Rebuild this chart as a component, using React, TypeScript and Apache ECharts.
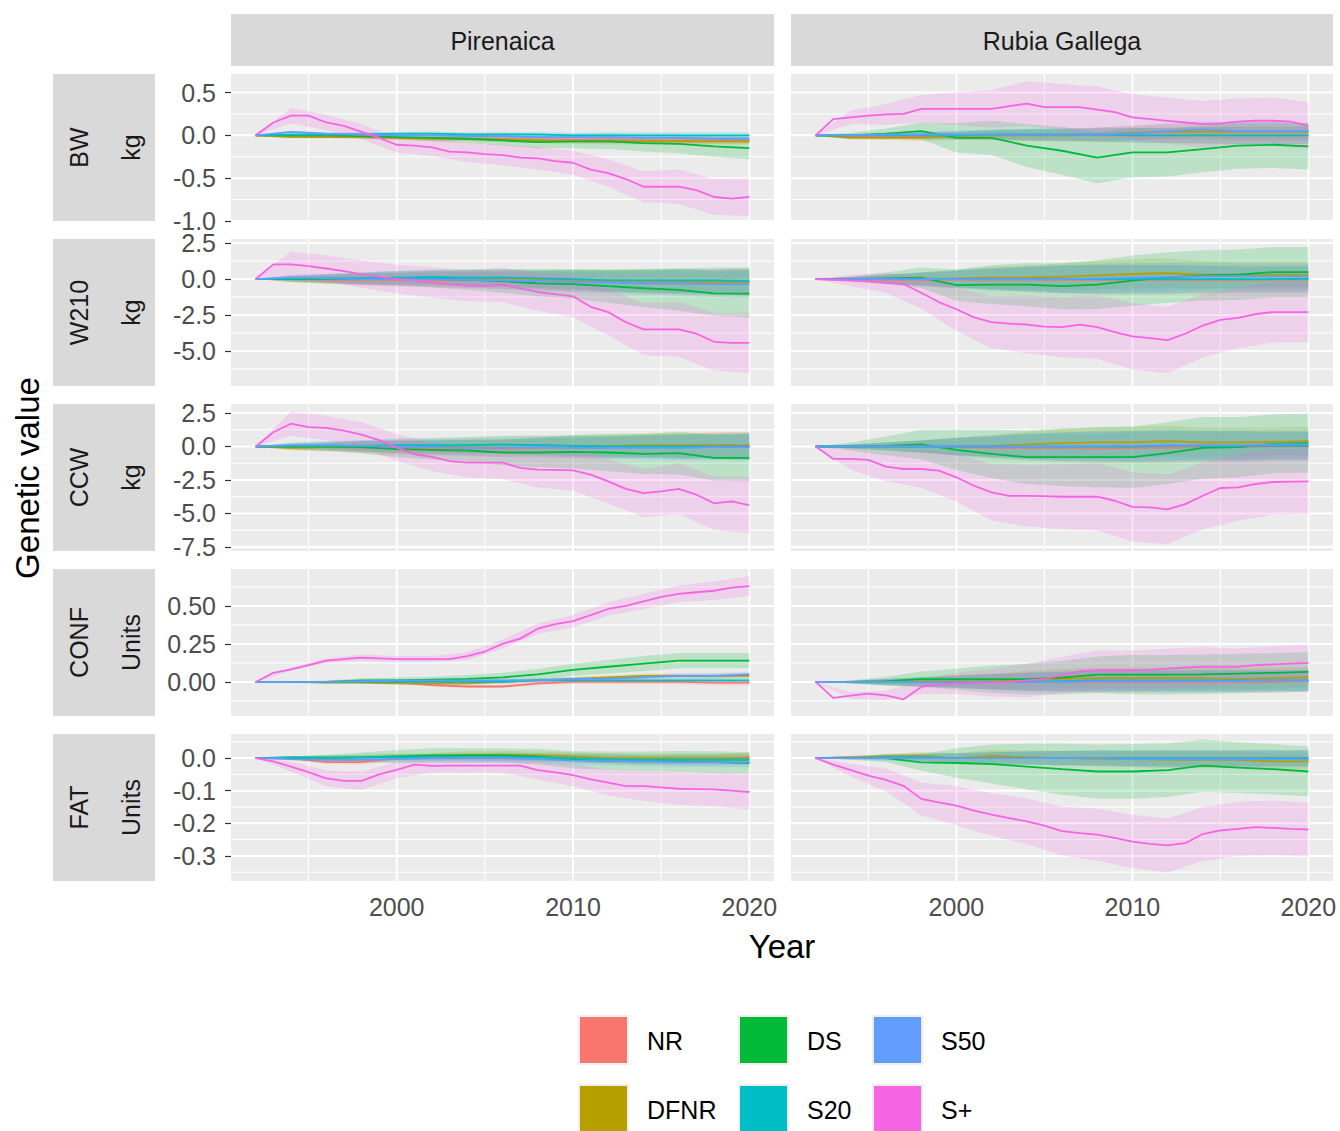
import React, { useEffect, useRef } from "react";
import * as echarts from "echarts";

// ---------------- categories / ticks ----------------
const YEARS = [1992, 1993, 1994, 1995, 1996, 1997, 1998, 1999, 2000, 2001, 2002, 2003, 2004, 2005, 2006, 2007, 2008, 2009, 2010, 2011, 2012, 2013, 2014, 2015, 2016, 2017, 2018, 2019, 2020];
const YEARS2 = [1992, 1994, 1996, 1998, 2000, 2002, 2004, 2006, 2008, 2010, 2012, 2014, 2016, 2018, 2020];

const SERIES_NAMES = ["NR", "DFNR", "DS", "S20", "S50", "S+"];
const SERIES_COLORS = ["#F8766D", "#B79F00", "#00BA38", "#00BFC4", "#619CFF", "#F564E3"];
const BREEDS = ["Pirenaica", "Rubia Gallega"];
const TRAITS = ["BW", "W210", "CCW", "CONF", "FAT"];
const UNITS = ["kg", "kg", "kg", "Units", "Units"];

const X_MAJOR = [2000, 2010, 2020];
const X_MINOR = [1995, 2005, 2015];
const X_MIN = 1990.6;
const X_MAX = 2021.4;

const Y_MIN = [-1.0, -7.43, -7.8, -0.224, -0.377];
const Y_MAX = [0.716, 2.78, 3.17, 0.743, 0.074];
const Y_DEC = [1, 1, 1, 2, 1];
const Y_MAJOR_BW = [-1.0, -0.5, 0, 0.5];
const Y_MINOR_BW = [-0.75, -0.25, 0.25];
const Y_MAJOR_W210 = [-5, -2.5, 0, 2.5];
const Y_MINOR_W210 = [-6.25, -3.75, -1.25, 1.25];
const Y_MAJOR_CCW = [-7.5, -5, -2.5, 0, 2.5];
const Y_MINOR_CCW = [-6.25, -3.75, -1.25, 1.25];
const Y_MAJOR_CONF = [0, 0.25, 0.5];
const Y_MINOR_CONF = [-0.125, 0.125, 0.375, 0.625];
const Y_MAJOR_FAT = [-0.3, -0.2, -0.1, 0];
const Y_MINOR_FAT = [-0.35, -0.25, -0.15, -0.05, 0.05];

// ---------------- BW ----------------
const pirBW_NR = [0, -0.01, -0.01, -0.02, -0.03, -0.03, -0.04, -0.04, -0.05, -0.05, -0.05, -0.06, -0.06, -0.06, -0.06];
const pirBW_DFNR = [0, -0.02, -0.02, -0.02, -0.03, -0.04, -0.04, -0.05, -0.06, -0.07, -0.07, -0.07, -0.07, -0.07, -0.07];
const pirBW_DS = [0, 0, 0, -0.01, -0.02, -0.03, -0.04, -0.06, -0.08, -0.07, -0.07, -0.09, -0.1, -0.13, -0.15];
const pirBW_S20 = [0, 0.01, 0.01, 0.01, 0.02, 0.02, 0.01, 0.01, 0.01, 0, 0, 0, 0, 0, 0];
const pirBW_S50 = [0, 0.04, 0.02, 0.01, 0, 0, -0.01, -0.01, -0.02, -0.02, -0.02, -0.03, -0.03, -0.04, -0.04];
const pirBW_SP = [0, 0.15, 0.23, 0.23, 0.15, 0.11, 0.04, -0.03, -0.11, -0.12, -0.14, -0.19, -0.2, -0.22, -0.23, -0.26, -0.27, -0.3, -0.32, -0.4, -0.44, -0.51, -0.6, -0.6, -0.6, -0.64, -0.72, -0.74, -0.72];
const pirBW_seMinor = [0, 0.01, 0.015, 0.02, 0.02, 0.025, 0.025, 0.03, 0.03, 0.03, 0.035, 0.035, 0.035, 0.035, 0.035];
const pirBW_seDS = [0, 0.01, 0.02, 0.02, 0.03, 0.04, 0.05, 0.06, 0.07, 0.08, 0.09, 0.1, 0.11, 0.12, 0.13];
const pirBW_seSP = [0, 0.09, 0.09, 0.09, 0.09, 0.1, 0.11, 0.12, 0.13, 0.14, 0.16, 0.18, 0.2, 0.21, 0.22];

const rubBW_NR = [0, -0.01, -0.01, -0.01, 0, 0, 0, 0, 0, 0, 0, 0, 0, 0, 0];
const rubBW_DFNR = [0, -0.03, -0.03, -0.03, -0.01, 0, 0, 0, 0.01, 0.03, 0.04, 0.04, 0.04, 0.04, 0.04];
const rubBW_DS = [0, 0, 0.02, 0.05, -0.03, -0.03, -0.12, -0.18, -0.26, -0.2, -0.2, -0.16, -0.12, -0.11, -0.13];
const rubBW_S20 = [0, 0, 0, 0, 0, 0.01, 0.01, 0.01, 0.01, 0, 0, 0, 0, 0, 0];
const rubBW_S50 = [0, 0, 0.01, 0.01, 0.01, 0.01, 0.01, 0.01, 0.01, 0.02, 0.05, 0.07, 0.05, 0.05, 0.05];
const rubBW_SP = [0, 0.19, 0.21, 0.23, 0.245, 0.25, 0.31, 0.31, 0.31, 0.31, 0.31, 0.34, 0.37, 0.33, 0.33, 0.33, 0.3, 0.27, 0.21, 0.19, 0.17, 0.15, 0.13, 0.14, 0.16, 0.17, 0.17, 0.16, 0.11];
const rubBW_seMinor = [0, 0.015, 0.025, 0.035, 0.045, 0.055, 0.065, 0.07, 0.08, 0.085, 0.09, 0.095, 0.1, 0.1, 0.1];
const rubBW_seDS = [0, 0.03, 0.06, 0.1, 0.17, 0.2, 0.25, 0.28, 0.3, 0.29, 0.28, 0.27, 0.27, 0.27, 0.27];
const rubBW_seSP = [0, 0.08, 0.12, 0.16, 0.19, 0.22, 0.26, 0.27, 0.27, 0.27, 0.27, 0.27, 0.27, 0.27, 0.28];

// ---------------- W210 ----------------
const pirW210_NR = [0, 0, -0.05, -0.05, -0.05, -0.05, -0.05, -0.1, -0.1, -0.15, -0.15, -0.2, -0.2, -0.2, -0.2];
const pirW210_DFNR = [0, 0, 0, 0, 0, 0.05, 0.05, 0.05, 0, -0.05, -0.1, -0.15, -0.15, -0.2, -0.2];
const pirW210_DS = [0, 0, 0, 0.05, 0.05, 0.02, -0.05, -0.15, -0.3, -0.35, -0.5, -0.64, -0.75, -1.0, -1.02];
const pirW210_S20 = [0, 0.05, 0.05, 0.05, 0.1, 0.15, 0.1, 0.1, 0.05, 0, -0.1, -0.1, -0.1, -0.1, -0.15];
const pirW210_S50 = [0, 0.1, 0.05, 0, 0, 0, -0.05, -0.1, -0.15, -0.2, -0.25, -0.3, -0.3, -0.35, -0.35];
const pirW210_SP = [0, 1.02, 1.02, 0.9, 0.73, 0.55, 0.34, 0.15, 0, -0.1, -0.23, -0.35, -0.45, -0.5, -0.4, -0.65, -0.9, -1.05, -1.2, -1.93, -2.3, -3.0, -3.5, -3.5, -3.5, -3.8, -4.36, -4.43, -4.43];
const pirW210_seMinor = [0, 0.2, 0.3, 0.4, 0.45, 0.5, 0.55, 0.6, 0.65, 0.7, 0.75, 0.8, 0.85, 0.9, 0.95];
const pirW210_seDS = [0, 0.2, 0.3, 0.4, 0.5, 0.6, 0.7, 0.8, 0.9, 1.0, 1.15, 1.3, 1.45, 1.55, 1.65];
const pirW210_seSP = [0, 0.9, 0.9, 0.95, 1.0, 1.05, 1.1, 1.2, 1.3, 1.45, 1.6, 1.8, 1.9, 2.0, 2.1];

const rubW210_NR = [0, -0.05, -0.05, -0.05, -0.05, -0.05, -0.05, -0.05, -0.05, -0.05, -0.05, -0.05, -0.05, -0.05, -0.05];
const rubW210_DFNR = [0, 0, 0, 0.02, 0.05, 0.1, 0.1, 0.15, 0.25, 0.35, 0.4, 0.3, 0.3, 0.3, 0.3];
const rubW210_DS = [0, 0, 0.05, 0.1, -0.43, -0.39, -0.39, -0.5, -0.39, -0.11, 0.11, 0.25, 0.3, 0.48, 0.48];
const rubW210_S20 = [0, 0, 0, 0, 0, 0, 0, 0, 0, 0, 0, 0, 0, 0, 0.02];
const rubW210_S50 = [0, 0, 0, 0, 0, 0, 0, 0, 0.05, 0.1, 0.15, 0.2, 0.2, 0.2, 0.2];
const rubW210_SP = [0, -0.05, -0.1, -0.15, -0.27, -0.35, -0.95, -1.6, -2.1, -2.66, -3.0, -3.1, -3.16, -3.3, -3.34, -3.16, -3.34, -3.68, -3.98, -4.1, -4.25, -3.8, -3.23, -2.84, -2.7, -2.43, -2.3, -2.3, -2.3];
const rubW210_seMinor = [0, 0.15, 0.3, 0.45, 0.6, 0.75, 0.85, 0.95, 1.0, 1.0, 1.0, 0.95, 0.9, 0.9, 0.9];
const rubW210_seDS = [0, 0.15, 0.4, 0.7, 1.1, 1.35, 1.5, 1.6, 1.7, 1.75, 1.75, 1.75, 1.75, 1.75, 1.75];
const rubW210_seSP = [0, 0.4, 0.7, 1.1, 1.5, 1.8, 2.0, 2.1, 2.2, 2.3, 2.3, 2.2, 2.1, 2.1, 2.1];

// ---------------- CCW ----------------
const pirCCW_NR = [0, 0, -0.05, -0.1, -0.1, -0.1, -0.1, -0.15, -0.1, -0.1, -0.1, 0, 0, 0.1, 0.1];
const pirCCW_DFNR = [0, -0.1, -0.05, 0, 0, 0, 0.05, 0.1, 0.1, 0.05, 0.05, 0.1, 0.1, 0.1, 0.05];
const pirCCW_DS = [0, 0, 0, -0.05, -0.2, -0.25, -0.3, -0.45, -0.45, -0.4, -0.45, -0.55, -0.5, -0.85, -0.85];
const pirCCW_S20 = [0, 0.05, 0.05, 0.05, 0.1, 0.1, 0.1, 0.15, 0.1, 0.05, 0, 0, 0, 0, 0];
const pirCCW_S50 = [0, 0.1, 0.1, 0.05, 0, -0.05, -0.1, -0.1, -0.05, -0.1, -0.1, -0.1, -0.1, -0.05, -0.05];
const pirCCW_SP = [0, 1.06, 1.7, 1.44, 1.39, 1.19, 0.88, 0.48, -0.08, -0.58, -0.78, -1.09, -1.21, -1.21, -1.21, -1.59, -1.72, -1.75, -1.79, -2.1, -2.6, -3.16, -3.48, -3.35, -3.16, -3.6, -4.24, -4.1, -4.37];
const pirCCW_seMinor = [0, 0.2, 0.3, 0.4, 0.5, 0.55, 0.6, 0.65, 0.7, 0.75, 0.8, 0.85, 0.9, 0.95, 1.0];
const pirCCW_seDS = [0, 0.2, 0.3, 0.45, 0.6, 0.7, 0.8, 0.95, 1.1, 1.25, 1.4, 1.5, 1.6, 1.7, 1.75];
const pirCCW_seSP = [0, 0.9, 0.9, 0.95, 1.0, 1.05, 1.1, 1.2, 1.35, 1.5, 1.65, 1.8, 1.9, 2.0, 2.1];

const rubCCW_NR = [0, 0, 0, 0, -0.05, -0.1, -0.1, -0.1, -0.15, -0.1, -0.1, -0.05, -0.05, 0, 0];
const rubCCW_DFNR = [0, 0, 0, 0, 0, 0.05, 0.15, 0.25, 0.3, 0.3, 0.4, 0.3, 0.3, 0.35, 0.4];
const rubCCW_DS = [0, 0, 0.05, 0.15, -0.25, -0.55, -0.8, -0.8, -0.8, -0.8, -0.5, -0.1, -0.05, 0.2, 0.25];
const rubCCW_S20 = [0, 0, 0, 0, 0, 0, 0, 0, 0, 0, 0.05, 0.05, 0.05, 0.05, 0.05];
const rubCCW_S50 = [0, 0, 0, 0, 0, 0, 0, 0, 0.05, 0.05, 0.1, 0.1, 0.1, 0.15, 0.15];
const rubCCW_SP = [0, -0.93, -0.93, -1.0, -1.5, -1.68, -1.68, -1.8, -2.3, -2.93, -3.43, -3.68, -3.68, -3.7, -3.75, -3.75, -3.75, -4.05, -4.5, -4.55, -4.7, -4.3, -3.68, -3.1, -3.05, -2.8, -2.65, -2.62, -2.6];
const rubCCW_seMinor = [0, 0.15, 0.3, 0.45, 0.65, 0.8, 0.95, 1.05, 1.1, 1.15, 1.15, 1.1, 1.1, 1.05, 1.05];
const rubCCW_seDS = [0, 0.3, 0.7, 1.1, 1.5, 1.8, 2.0, 2.15, 2.25, 2.3, 2.3, 2.3, 2.25, 2.2, 2.2];
const rubCCW_seSP = [0, 0.8, 1.1, 1.4, 1.8, 2.1, 2.3, 2.4, 2.5, 2.6, 2.6, 2.5, 2.5, 2.45, 2.45];

// ---------------- CONF ----------------
const pirCONF_NR = [0, 0, 0, 0, -0.005, -0.02, -0.03, -0.03, -0.01, 0, 0, 0, 0, -0.005, -0.005];
const pirCONF_DFNR = [0, 0, -0.005, -0.005, -0.01, -0.01, -0.01, 0, 0.01, 0.02, 0.03, 0.04, 0.04, 0.04, 0.04];
const pirCONF_DS = [0, 0, 0, 0.01, 0.01, 0.015, 0.02, 0.03, 0.05, 0.08, 0.1, 0.12, 0.14, 0.14, 0.14];
const pirCONF_S20 = [0, 0, 0, 0, 0, 0, 0, 0, 0.01, 0.01, 0.01, 0.01, 0.01, 0.01, 0.01];
const pirCONF_S50 = [0, 0, 0, 0.005, 0.01, 0.01, 0.01, 0.01, 0.01, 0.02, 0.02, 0.03, 0.04, 0.04, 0.05];
const pirCONF_SP = [0, 0.06, 0.083, 0.11, 0.14, 0.15, 0.16, 0.155, 0.15, 0.15, 0.15, 0.15, 0.17, 0.2, 0.25, 0.285, 0.35, 0.38, 0.4, 0.44, 0.48, 0.5, 0.53, 0.56, 0.58, 0.59, 0.6, 0.62, 0.63];
const pirCONF_seMinor = [0, 0.003, 0.005, 0.007, 0.008, 0.009, 0.01, 0.011, 0.012, 0.013, 0.014, 0.015, 0.016, 0.017, 0.018];
const pirCONF_seDS = [0, 0.005, 0.01, 0.015, 0.02, 0.02, 0.025, 0.03, 0.035, 0.04, 0.045, 0.05, 0.05, 0.05, 0.05];
const pirCONF_seSP = [0, 0.01, 0.015, 0.02, 0.02, 0.02, 0.025, 0.03, 0.035, 0.04, 0.045, 0.05, 0.055, 0.06, 0.065];

const rubCONF_NR = [0, 0, 0, 0, 0, 0, 0, 0, 0, 0, 0, 0, 0, 0, 0.005];
const rubCONF_DFNR = [0, 0, 0, 0.005, 0.005, 0.005, 0.01, 0.02, 0.025, 0.025, 0.025, 0.025, 0.02, 0.025, 0.03];
const rubCONF_DS = [0, 0, 0.005, 0.018, 0.018, 0.018, 0.018, 0.028, 0.048, 0.048, 0.048, 0.05, 0.055, 0.06, 0.066];
const rubCONF_S20 = [0, 0, 0, 0, 0, 0, 0, 0.005, 0.01, 0.01, 0.01, 0.01, 0.01, 0.01, 0.01];
const rubCONF_S50 = [0, 0, 0, 0, 0, 0, 0, 0, 0.005, 0.005, 0.005, 0.005, 0.005, 0.01, 0.01];
const rubCONF_SP = [0, -0.105, -0.09, -0.077, -0.088, -0.114, -0.033, -0.018, -0.01, -0.008, -0.005, 0, 0.01, 0.02, 0.045, 0.07, 0.077, 0.077, 0.077, 0.08, 0.088, 0.095, 0.1, 0.1, 0.1, 0.11, 0.115, 0.12, 0.125];
const rubCONF_seMinor = [0, 0.008, 0.02, 0.03, 0.04, 0.05, 0.06, 0.065, 0.07, 0.07, 0.07, 0.07, 0.07, 0.07, 0.07];
const rubCONF_seDS = [0, 0.01, 0.03, 0.05, 0.07, 0.09, 0.1, 0.11, 0.12, 0.13, 0.13, 0.13, 0.13, 0.13, 0.13];
const rubCONF_seSP = [0, 0.02, 0.03, 0.045, 0.07, 0.09, 0.11, 0.12, 0.13, 0.13, 0.13, 0.13, 0.12, 0.12, 0.12];

// ---------------- FAT ----------------
const pirFAT_NR = [0, 0, -0.012, -0.012, 0, 0.005, 0.005, 0.005, 0.003, 0, 0, -0.005, -0.005, -0.005, 0.003];
const pirFAT_DFNR = [0, 0.002, 0.002, 0.002, 0.005, 0.005, 0.01, 0.01, 0.008, 0.005, 0, 0, 0, 0, 0];
const pirFAT_DS = [0, 0, 0, 0.002, 0.005, 0.008, 0.008, 0.008, 0.005, -0.005, -0.008, -0.01, -0.01, -0.012, -0.015];
const pirFAT_S20 = [0, 0.002, 0.002, 0.002, 0.003, 0.003, 0.003, 0.003, 0.002, 0, -0.003, -0.005, -0.005, -0.005, -0.005];
const pirFAT_S50 = [0, -0.003, -0.005, -0.005, -0.003, 0, 0, 0, -0.003, -0.007, -0.008, -0.01, -0.012, -0.012, -0.013];
const pirFAT_SP = [0, -0.01, -0.026, -0.043, -0.062, -0.07, -0.07, -0.05, -0.036, -0.02, -0.024, -0.023, -0.023, -0.023, -0.023, -0.023, -0.037, -0.044, -0.052, -0.065, -0.075, -0.086, -0.086, -0.09, -0.094, -0.095, -0.096, -0.1, -0.104];
const pirFAT_seMinor = [0, 0.004, 0.006, 0.008, 0.009, 0.01, 0.011, 0.012, 0.012, 0.013, 0.014, 0.014, 0.015, 0.015, 0.015];
const pirFAT_seDS = [0, 0.005, 0.01, 0.015, 0.02, 0.022, 0.022, 0.022, 0.024, 0.026, 0.028, 0.03, 0.032, 0.033, 0.034];
const pirFAT_seSP = [0, 0.015, 0.025, 0.028, 0.025, 0.02, 0.02, 0.022, 0.028, 0.034, 0.04, 0.045, 0.05, 0.052, 0.054];

const rubFAT_NR = [0, 0.003, 0.003, 0, 0, 0, 0, 0, 0, 0, 0, 0, 0, 0, 0];
const rubFAT_DFNR = [0, 0.002, 0.005, 0.007, 0, 0.007, 0.003, 0, -0.002, -0.003, -0.005, -0.005, -0.005, -0.01, -0.01];
const rubFAT_DS = [0, 0, 0, -0.013, -0.015, -0.018, -0.026, -0.034, -0.041, -0.041, -0.037, -0.023, -0.029, -0.034, -0.041];
const rubFAT_S20 = [0, 0, 0.003, 0.003, 0, 0, 0, 0, 0, 0, 0, 0, 0, 0, 0];
const rubFAT_S50 = [0, 0, 0, 0, 0, 0, 0, 0, 0, -0.003, -0.003, -0.003, -0.003, -0.003, -0.003];
const rubFAT_SP = [0, -0.02, -0.037, -0.054, -0.067, -0.085, -0.125, -0.136, -0.146, -0.161, -0.173, -0.184, -0.194, -0.207, -0.224, -0.23, -0.235, -0.245, -0.256, -0.263, -0.268, -0.261, -0.233, -0.222, -0.217, -0.212, -0.214, -0.217, -0.219];
const rubFAT_seMinor = [0, 0.004, 0.008, 0.012, 0.015, 0.018, 0.02, 0.022, 0.023, 0.024, 0.025, 0.025, 0.025, 0.025, 0.025];
const rubFAT_seDS = [0, 0.005, 0.012, 0.025, 0.045, 0.06, 0.07, 0.078, 0.083, 0.084, 0.082, 0.08, 0.078, 0.077, 0.077];
const rubFAT_seSP = [0, 0.02, 0.035, 0.05, 0.06, 0.065, 0.07, 0.075, 0.08, 0.082, 0.083, 0.083, 0.083, 0.083, 0.083];

// ---------------- table built from the arrays ----------------
type Panel = { minor: number[][]; ds: number[]; sp: number[]; seMinor: number[]; seDS: number[]; seSP: number[] };
const mk = (nr: number[], dfnr: number[], ds: number[], s20: number[], s50: number[], sp: number[], seMinor: number[], seDS: number[], seSP: number[]): Panel => ({
  minor: [nr, dfnr, s20, s50], ds, sp, seMinor, seDS, seSP,
});
const PANELS: Panel[][] = [
  [mk(pirBW_NR, pirBW_DFNR, pirBW_DS, pirBW_S20, pirBW_S50, pirBW_SP, pirBW_seMinor, pirBW_seDS, pirBW_seSP),
   mk(rubBW_NR, rubBW_DFNR, rubBW_DS, rubBW_S20, rubBW_S50, rubBW_SP, rubBW_seMinor, rubBW_seDS, rubBW_seSP)],
  [mk(pirW210_NR, pirW210_DFNR, pirW210_DS, pirW210_S20, pirW210_S50, pirW210_SP, pirW210_seMinor, pirW210_seDS, pirW210_seSP),
   mk(rubW210_NR, rubW210_DFNR, rubW210_DS, rubW210_S20, rubW210_S50, rubW210_SP, rubW210_seMinor, rubW210_seDS, rubW210_seSP)],
  [mk(pirCCW_NR, pirCCW_DFNR, pirCCW_DS, pirCCW_S20, pirCCW_S50, pirCCW_SP, pirCCW_seMinor, pirCCW_seDS, pirCCW_seSP),
   mk(rubCCW_NR, rubCCW_DFNR, rubCCW_DS, rubCCW_S20, rubCCW_S50, rubCCW_SP, rubCCW_seMinor, rubCCW_seDS, rubCCW_seSP)],
  [mk(pirCONF_NR, pirCONF_DFNR, pirCONF_DS, pirCONF_S20, pirCONF_S50, pirCONF_SP, pirCONF_seMinor, pirCONF_seDS, pirCONF_seSP),
   mk(rubCONF_NR, rubCONF_DFNR, rubCONF_DS, rubCONF_S20, rubCONF_S50, rubCONF_SP, rubCONF_seMinor, rubCONF_seDS, rubCONF_seSP)],
  [mk(pirFAT_NR, pirFAT_DFNR, pirFAT_DS, pirFAT_S20, pirFAT_S50, pirFAT_SP, pirFAT_seMinor, pirFAT_seDS, pirFAT_seSP),
   mk(rubFAT_NR, rubFAT_DFNR, rubFAT_DS, rubFAT_S20, rubFAT_S50, rubFAT_SP, rubFAT_seMinor, rubFAT_seDS, rubFAT_seSP)],
];
const Y_MAJORS = [Y_MAJOR_BW, Y_MAJOR_W210, Y_MAJOR_CCW, Y_MAJOR_CONF, Y_MAJOR_FAT];
const Y_MINORS = [Y_MINOR_BW, Y_MINOR_W210, Y_MINOR_CCW, Y_MINOR_CONF, Y_MINOR_FAT];

// ---------------- layout ----------------
const FONT = "'Liberation Sans', Arial, Helvetica, sans-serif";
const COL_LEFT = [231, 791];
const COL_WIDTH = [543, 542];
const ROW_TOP = [74, 239, 404, 569, 734];
const PANEL_H = 147;
const RIBBON_ALPHA = 0.2;

const rgba = (hex: string, a: number) => {
  const n = parseInt(hex.slice(1), 16);
  return `rgba(${(n >> 16) & 255},${(n >> 8) & 255},${n & 255},${a})`;
};

function gridLines(g: number, yMajor: number[], yMinor: number[]) {
  return {
    type: "custom",
    xAxisIndex: g,
    yAxisIndex: g,
    silent: true,
    z: 1,
    data: [[X_MAJOR[0], 0]],
    renderItem: (params: any, api: any) => {
      const cs = params.coordSys;
      const kids: any[] = [];
      const h = (v: number, w: number) => {
        const y = api.coord([X_MAJOR[0], v])[1];
        kids.push({ type: "line", shape: { x1: cs.x, y1: y, x2: cs.x + cs.width, y2: y }, style: { stroke: "#FFFFFF", lineWidth: w } });
      };
      const vv = (v: number, w: number) => {
        const x = api.coord([v, 0])[0];
        kids.push({ type: "line", shape: { x1: x, y1: cs.y, x2: x, y2: cs.y + cs.height }, style: { stroke: "#FFFFFF", lineWidth: w } });
      };
      yMinor.forEach((v) => h(v, 1));
      X_MINOR.forEach((v) => vv(v, 1));
      yMajor.forEach((v) => h(v, 2));
      X_MAJOR.forEach((v) => vv(v, 2));
      return { type: "group", children: kids };
    },
  };
}

function ribbon(g: number, xs: number[], center: number[], hw: number[], color: string) {
  const data = xs.map((x, i) => [x, center[i] - hw[i], center[i] + hw[i]]);
  return {
    type: "custom",
    xAxisIndex: g,
    yAxisIndex: g,
    silent: true,
    z: 2,
    data,
    encode: { x: 0, y: [1, 2] },
    renderItem: (params: any, api: any) => {
      if (params.dataIndex !== 0) return null;
      const upper = data.map((d) => api.coord([d[0], d[2]]));
      const lower = data.map((d) => api.coord([d[0], d[1]])).reverse();
      return { type: "polygon", shape: { points: upper.concat(lower) }, style: { fill: rgba(color, RIBBON_ALPHA) } };
    },
  };
}

function line(g: number, name: string, xs: number[], ys: number[], color: string) {
  return {
    type: "line",
    name,
    xAxisIndex: g,
    yAxisIndex: g,
    silent: true,
    z: 3,
    symbol: "none",
    showSymbol: false,
    data: xs.map((x, i) => [x, ys[i]]),
    lineStyle: { color, width: 1.8 },
    itemStyle: { color },
  };
}

function buildOption() {
  const grid: any[] = [];
  const xAxis: any[] = [];
  const yAxis: any[] = [];
  const series: any[] = [];
  const graphic: any[] = [];

  for (let r = 0; r < 5; r++) {
    for (let c = 0; c < 2; c++) {
      const g = r * 2 + c;
      const p = PANELS[r][c];
      grid.push({ left: COL_LEFT[c], top: ROW_TOP[r], width: COL_WIDTH[c], height: PANEL_H, show: true, backgroundColor: "#EBEBEB", borderWidth: 0 });
      xAxis.push({
        gridIndex: g,
        type: "value",
        min: X_MIN,
        max: X_MAX,
        axisLine: { show: false },
        splitLine: { show: false },
        axisTick: { show: r === 4, customValues: X_MAJOR, length: 6, lineStyle: { color: "#333333", width: 1.2 } },
        axisLabel: {
          show: r === 4,
          customValues: X_MAJOR,
          fontSize: 25,
          color: "#4D4D4D",
          margin: 13,
          fontFamily: FONT,
          formatter: (v: number) => String(Math.round(v)),
        },
      });
      const dec = Y_DEC[r];
      yAxis.push({
        gridIndex: g,
        type: "value",
        min: Y_MIN[r],
        max: Y_MAX[r],
        axisLine: { show: false },
        splitLine: { show: false },
        axisTick: { show: c === 0, customValues: Y_MAJORS[r], length: 6, lineStyle: { color: "#333333", width: 1.2 } },
        axisLabel: {
          show: c === 0,
          customValues: Y_MAJORS[r],
          fontSize: 25,
          color: "#4D4D4D",
          margin: 15,
          fontFamily: FONT,
          formatter: (v: number) => Number(v).toFixed(dec),
        },
      });
      series.push(gridLines(g, Y_MAJORS[r], Y_MINORS[r]));
      // ribbons in factor order: NR, DFNR, DS, S20, S50, S+
      const spEven = p.sp.filter((_, i) => i % 2 === 0);
      series.push(ribbon(g, YEARS2, p.minor[0], p.seMinor, SERIES_COLORS[0]));
      series.push(ribbon(g, YEARS2, p.minor[1], p.seMinor, SERIES_COLORS[1]));
      series.push(ribbon(g, YEARS2, p.ds, p.seDS, SERIES_COLORS[2]));
      series.push(ribbon(g, YEARS2, p.minor[2], p.seMinor, SERIES_COLORS[3]));
      series.push(ribbon(g, YEARS2, p.minor[3], p.seMinor, SERIES_COLORS[4]));
      series.push(ribbon(g, YEARS2, spEven, p.seSP, SERIES_COLORS[5]));
      // lines
      series.push(line(g, SERIES_NAMES[0], YEARS2, p.minor[0], SERIES_COLORS[0]));
      series.push(line(g, SERIES_NAMES[1], YEARS2, p.minor[1], SERIES_COLORS[1]));
      series.push(line(g, SERIES_NAMES[2], YEARS2, p.ds, SERIES_COLORS[2]));
      series.push(line(g, SERIES_NAMES[3], YEARS2, p.minor[2], SERIES_COLORS[3]));
      series.push(line(g, SERIES_NAMES[4], YEARS2, p.minor[3], SERIES_COLORS[4]));
      series.push(line(g, SERIES_NAMES[5], YEARS, p.sp, SERIES_COLORS[5]));
    }
  }

  // column strips
  for (let c = 0; c < 2; c++) {
    graphic.push({ type: "rect", shape: { x: COL_LEFT[c], y: 14, width: COL_WIDTH[c], height: 52 }, style: { fill: "#D9D9D9" }, silent: true });
    graphic.push({
      type: "text",
      x: COL_LEFT[c] + COL_WIDTH[c] / 2,
      y: 41,
      style: { text: BREEDS[c], fontSize: 25, fontFamily: FONT, fill: "#1A1A1A", align: "center", verticalAlign: "middle" },
      silent: true,
    });
  }
  // row strips
  for (let r = 0; r < 5; r++) {
    const cy = ROW_TOP[r] + PANEL_H / 2;
    graphic.push({ type: "rect", shape: { x: 53, y: ROW_TOP[r], width: 102, height: PANEL_H }, style: { fill: "#D9D9D9" }, silent: true });
    graphic.push({
      type: "text", x: 79, y: cy, rotation: Math.PI / 2,
      style: { text: TRAITS[r], fontSize: 25, fontFamily: FONT, fill: "#1A1A1A", align: "center", verticalAlign: "middle" }, silent: true,
    });
    graphic.push({
      type: "text", x: 131, y: cy, rotation: Math.PI / 2,
      style: { text: UNITS[r], fontSize: 25, fontFamily: FONT, fill: "#1A1A1A", align: "center", verticalAlign: "middle" }, silent: true,
    });
  }
  // axis titles
  graphic.push({
    type: "text", x: 782, y: 946,
    style: { text: "Year", fontSize: 33, fontFamily: FONT, fill: "#000000", align: "center", verticalAlign: "middle" }, silent: true,
  });
  graphic.push({
    type: "text", x: 27, y: 478, rotation: Math.PI / 2,
    style: { text: "Genetic value", fontSize: 33, fontFamily: FONT, fill: "#000000", align: "center", verticalAlign: "middle" }, silent: true,
  });
  // legend (3 columns x 2 rows, filled by column)
  const keyX = [579, 739, 873];
  const txtX = [647, 807, 941];
  const rowY = [1016, 1085];
  SERIES_NAMES.forEach((name, i) => {
    const col = Math.floor(i / 2);
    const row = i % 2;
    graphic.push({
      type: "rect", shape: { x: keyX[col], y: rowY[row], width: 49, height: 48 },
      style: { fill: SERIES_COLORS[i], stroke: "#EEEEEE", lineWidth: 2 }, silent: true,
    });
    graphic.push({
      type: "text", x: txtX[col], y: rowY[row] + 25,
      style: { text: name, fontSize: 25, fontFamily: FONT, fill: "#000000", align: "left", verticalAlign: "middle" }, silent: true,
    });
  });

  return {
    animation: false,
    backgroundColor: "#FFFFFF",
    textStyle: { fontFamily: FONT },
    grid,
    xAxis,
    yAxis,
    series,
    graphic,
  };
}

export default function App() {
  const ref = useRef<HTMLDivElement | null>(null);
  useEffect(() => {
    if (!ref.current) return;
    const chart = echarts.init(ref.current, null, { renderer: "svg" });
    chart.setOption(buildOption() as any);
    return () => chart.dispose();
  }, []);
  return <div ref={ref} style={{ position: "fixed", left: 0, top: 0, width: 1340, height: 1131 }} />;
}
